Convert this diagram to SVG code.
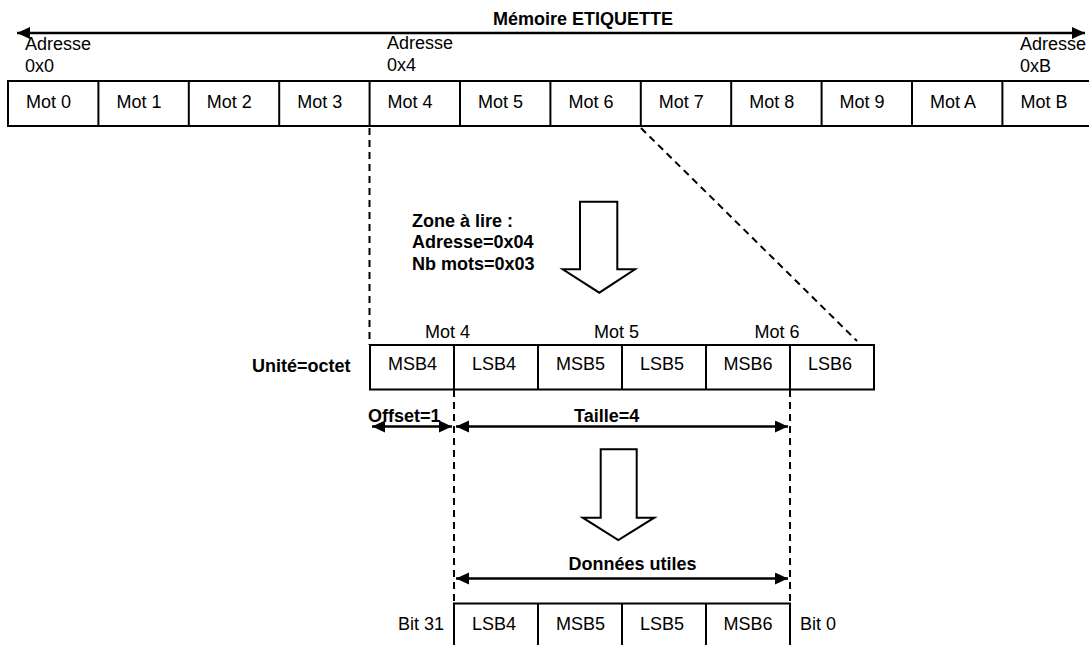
<svg xmlns="http://www.w3.org/2000/svg" width="1089" height="645" viewBox="0 0 1089 645">
<style>
text{font-family:"Liberation Sans",Arial,sans-serif;font-size:18px;fill:#000}
.b{font-weight:bold}
.cell{fill:#fff;stroke:#000;stroke-width:2}
.ln{stroke:#000;stroke-width:2;fill:none}
.dash{stroke:#000;stroke-width:2;fill:none;stroke-dasharray:7,5}
.arr{stroke:#000;stroke-width:2.5;fill:none;marker-start:url(#ah);marker-end:url(#ah)}
.hollow{fill:#fff;stroke:#000;stroke-width:2;stroke-linejoin:miter}
</style>
<defs>
<marker id="ah" markerUnits="userSpaceOnUse" markerWidth="14" markerHeight="13" refX="13" refY="6" orient="auto-start-reverse">
<path d="M0,0 L13,6 L0,12 z" fill="#000"/>
</marker>
</defs>
<rect width="1089" height="645" fill="#fff"/>

<g id="connectors">
<line class="arr" x1="17" y1="33" x2="1085" y2="33"/>
<line class="dash" x1="369.5" y1="128" x2="369.5" y2="345"/>
<line class="dash" x1="641" y1="128" x2="857" y2="341"/>
<line class="dash" x1="454" y1="390" x2="454" y2="603"/>
<line class="dash" x1="790" y1="390" x2="790" y2="603"/>
<line class="arr" x1="372" y1="426.5" x2="452" y2="426.5"/>
<line class="arr" x1="456" y1="426.5" x2="788" y2="426.5"/>
<line class="arr" x1="456" y1="578.5" x2="788" y2="578.5"/>
</g>

<g id="title">
<text class="b" x="583" y="25" text-anchor="middle">Mémoire ETIQUETTE</text>
</g>

<g id="addresses">
<text x="25" y="50">Adresse</text><text x="25" y="71.5">0x0</text>
<text x="387" y="49">Adresse</text><text x="387" y="70.5">0x4</text>
<text x="1020" y="50">Adresse</text><text x="1020" y="71.5">0xB</text>
</g>

<g id="memory-row">
<rect class="cell" x="8" y="81" width="1100" height="45"/>
<path class="ln" d="M98.4,81V126M188.8,81V126M279.2,81V126M369.6,81V126M460,81V126M550.4,81V126M640.8,81V126M731.2,81V126M821.6,81V126M912,81V126M1002.4,81V126"/>
<text x="26" y="108">Mot 0</text>
<text x="116.4" y="108">Mot 1</text>
<text x="206.8" y="108">Mot 2</text>
<text x="297.2" y="108">Mot 3</text>
<text x="387.6" y="108">Mot 4</text>
<text x="478" y="108">Mot 5</text>
<text x="568.4" y="108">Mot 6</text>
<text x="658.8" y="108">Mot 7</text>
<text x="749.2" y="108">Mot 8</text>
<text x="839.6" y="108">Mot 9</text>
<text x="930" y="108">Mot A</text>
<text x="1020.4" y="108">Mot B</text>
</g>

<g id="zone-arrow">
<path class="hollow" d="M580,201.7H617.3V269.3H635L599.3,292.7L562.7,269.3H580Z"/>
</g>
<g id="zone-label">
<text class="b" x="412" y="226.5">Zone à lire :</text>
<text class="b" x="412" y="248">Adresse=0x04</text>
<text class="b" x="412" y="269.5">Nb mots=0x03</text>
</g>

<g id="byte-row">
<text class="b" x="252" y="372">Unité=octet</text>
<text x="447.5" y="338" text-anchor="middle">Mot 4</text>
<text x="616.5" y="338" text-anchor="middle">Mot 5</text>
<text x="777" y="338" text-anchor="middle">Mot 6</text>
<rect class="cell" x="370" y="345" width="504" height="44.5"/>
<path class="ln" d="M454,345V389.5M538,345V389.5M622,345V389.5M706,345V389.5M790,345V389.5"/>
<text x="388" y="369.5">MSB4</text>
<text x="472" y="369.5">LSB4</text>
<text x="556" y="369.5">MSB5</text>
<text x="640" y="369.5">LSB5</text>
<text x="723.5" y="369.5">MSB6</text>
<text x="808" y="369.5">LSB6</text>
</g>

<g id="offset-label"><text class="b" x="368" y="421.5">Offset=1</text></g>
<g id="taille-label"><text class="b" x="574" y="421.5">Taille=4</text></g>

<g id="data-arrow">
<path class="hollow" d="M600.7,449.3H636.7V517.7H654.3L618.3,540L582.7,517.7H600.7Z"/>
</g>
<g id="data-label"><text class="b" x="568.5" y="570">Données utiles</text></g>

<g id="result-row">
<rect class="cell" x="454" y="603.5" width="336" height="60"/>
<path class="ln" d="M538,603.5V645M622,603.5V645M706,603.5V645"/>
<text x="472" y="630">LSB4</text>
<text x="556" y="630">MSB5</text>
<text x="640" y="630">LSB5</text>
<text x="723.5" y="630">MSB6</text>
<text x="444" y="630" text-anchor="end">Bit 31</text>
<text x="800" y="630">Bit 0</text>
</g>
</svg>
